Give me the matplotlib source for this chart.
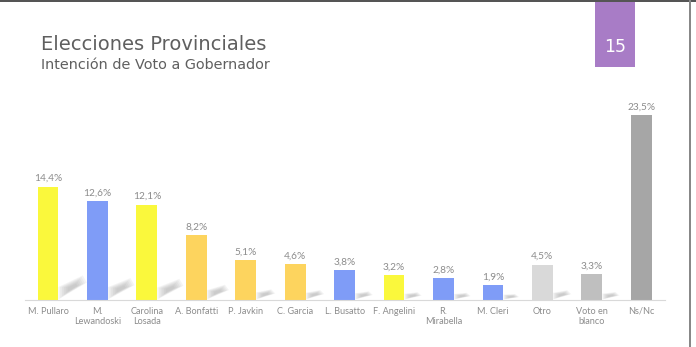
import matplotlib
matplotlib.use("Agg")
import matplotlib.pyplot as plt
from matplotlib.patches import Polygon, Rectangle

# --- data ---
candidatos = ["M. Pullaro", "M.\nLewandoski", "Carolina\nLosada", "A. Bonfatti",
              "P. Javkin", "C. Garcia", "L. Busatto", "F. Angelini", "R.\nMirabella",
              "M. Cleri", "Otro", "Voto en\nblanco", "Ns/Nc"]
valores = [14.4, 12.6, 12.1, 8.2, 5.1, 4.6, 3.8, 3.2, 2.8, 1.9, 4.5, 3.3, 23.5]
etiquetas = ["14,4%", "12,6%", "12,1%", "8,2%", "5,1%", "4,6%", "3,8%", "3,2%",
             "2,8%", "1,9%", "4,5%", "3,3%", "23,5%"]
colores = ["#FAF83C", "#7F9CF7", "#FAF83C", "#FDD45E", "#FDD45E", "#FDD45E",
           "#7F9CF7", "#FAF83C", "#7F9CF7", "#7F9CF7", "#D9D9D9", "#BFBFBF", "#A6A6A6"]

plt.rcParams['font.family'] = ['Lato', 'DejaVu Sans']

fig = plt.figure(figsize=(6.96, 3.47), dpi=100)
ax = fig.add_axes([25 / 696, 47 / 347, 640 / 696, 200 / 347])

x = list(range(len(valores)))
ancho = 0.42
px_x = 1 / 49.4   # one pixel in x data units
px_y = 1 / 7.87   # one pixel in y data units

# soft "fallen" shadows rising to the right of each bar
for xi, v in zip(x, valores):
    if v > 20:
        continue  # Ns/Nc shadow is hidden on the slide
    xr = xi + ancho / 2
    dx = 14 + v
    top = 3 + 1.5 * v
    th = min(13, 4 + 0.7 * v)
    for k in range(6):
        s = 1 - k * 0.13
        cx, cy = dx * 0.5, top * 0.5
        pts = [(0, 0.5), (0, th), (dx - 4, top), (dx, top - th * 0.55)]
        pts = [(cx + (px - cx) * s, cy + (py - cy) * s) for px, py in pts]
        pts = [(xr + px * px_x, py * px_y) for px, py in pts]
        ax.add_patch(Polygon(pts, closed=True, facecolor="#8f8f8f",
                             edgecolor="none", alpha=0.09, zorder=1))

ax.bar(x, valores, width=ancho, color=colores, zorder=2)

for xi, v, t in zip(x, valores, etiquetas):
    ax.text(xi, v + 0.45, t, ha="center", va="bottom", fontsize=7.3, color="#8c8c8c")

ax.set_xlim(-0.465, 12.48)
ax.set_ylim(0, 25.4)
ax.set_xticks(x)
ax.set_xticklabels(candidatos, fontsize=6.6, color="#8c8c8c", linespacing=1.15)
ax.tick_params(axis="x", length=0, pad=5)
ax.set_yticks([])
for s in ["top", "right", "left"]:
    ax.spines[s].set_visible(False)
ax.spines["bottom"].set_color("#d9d9d9")
ax.spines["bottom"].set_linewidth(0.8)

# titles
fig.text(41 / 696, 1 - 50 / 347, "Elecciones Provinciales", fontsize=14,
         color="#5f5f5f", va="baseline", family="DejaVu Sans")
fig.text(41 / 696, 1 - 69 / 347, "Intención de Voto a Gobernador", fontsize=10.4,
         color="#5f5f5f", va="baseline", family="DejaVu Sans")

# slide number box
fig.patches.append(Rectangle((595 / 696, 1 - 67 / 347), 40 / 696, 67 / 347,
                             transform=fig.transFigure, facecolor="#A87CC6",
                             edgecolor="none"))
fig.text(615 / 696, 1 - 47 / 347, "15", fontsize=12.5, color="white",
         ha="center", va="center", family="DejaVu Sans")

# slide frame lines
fig.patches.append(Rectangle((0, 1 - 2 / 347), 1, 2 / 347, transform=fig.transFigure,
                             facecolor="#555555", edgecolor="none"))
fig.patches.append(Rectangle((689 / 696, 0), 1.5 / 696, 1, transform=fig.transFigure,
                             facecolor="#888888", edgecolor="none"))

fig.savefig("out.png", dpi=100)
